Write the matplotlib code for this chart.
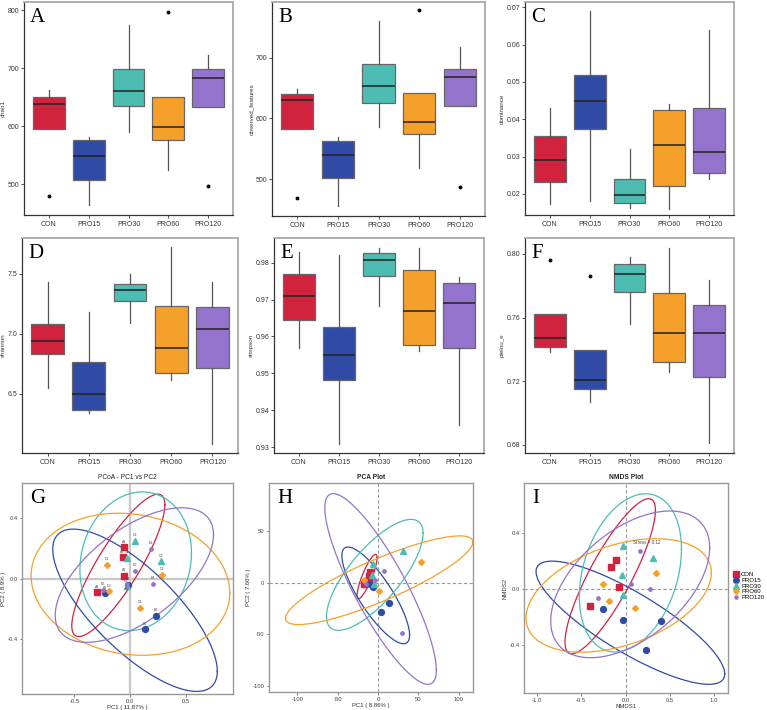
import numpy as np
import matplotlib
matplotlib.use("Agg")
import matplotlib.pyplot as plt
from matplotlib.lines import Line2D

plt.rcParams['font.family'] = ['Liberation Sans', 'DejaVu Sans']

groups = ["CON", "PRO15", "PRO30", "PRO60", "PRO120"]
colors = ["#D2233E", "#2F4BA6", "#4DBDB3", "#F5A02B", "#9473CC"]

# ---------------- box plot statistics ----------------
chao1_whislo = [596, 464, 590, 525, 633]
chao1_q1 = [596, 507, 635, 577, 633]
chao1_med = [639, 549, 661, 599, 683]
chao1_q3 = [650, 577, 698, 651, 698]
chao1_whishi = [662, 581, 775, 651, 723]
chao1_fliers = [[480], [], [], [797], [497]]

obs_whislo = [582, 455, 586, 518, 621]
obs_q1 = [582, 501, 626, 574, 621]
obs_med = [630, 539, 653, 594, 669]
obs_q3 = [641, 563, 689, 642, 682]
obs_whishi = [649, 570, 761, 642, 717]
obs_fliers = [[468], [], [], [779], [487]]

dom_whislo = [0.0172, 0.0181, 0.0163, 0.0161, 0.0241]
dom_q1 = [0.0231, 0.0375, 0.0176, 0.0222, 0.0256]
dom_med = [0.0291, 0.0450, 0.0197, 0.0330, 0.0311]
dom_q3 = [0.0356, 0.0518, 0.0239, 0.0425, 0.0430]
dom_whishi = [0.0430, 0.0689, 0.0320, 0.0440, 0.0638]
dom_fliers = [[], [], [], [], []]

sha_whislo = [6.55, 6.342, 7.094, 6.614, 6.086]
sha_q1 = [6.833, 6.367, 7.278, 6.675, 6.714]
sha_med = [6.944, 6.50, 7.367, 6.881, 7.039]
sha_q3 = [7.083, 6.769, 7.417, 7.233, 7.228]
sha_whishi = [7.433, 7.183, 7.50, 7.722, 7.433]
sha_fliers = [[], [], [], [], []]

sim_whislo = [0.957, 0.9309, 0.9682, 0.9561, 0.9359]
sim_q1 = [0.9645, 0.9483, 0.9763, 0.9576, 0.957]
sim_med = [0.971, 0.955, 0.9806, 0.967, 0.969]
sim_q3 = [0.977, 0.9625, 0.9826, 0.9781, 0.9745]
sim_whishi = [0.983, 0.982, 0.984, 0.984, 0.976]
sim_fliers = [[], [], [], [], []]

pie_whislo = [0.7381, 0.7069, 0.756, 0.726, 0.681]
pie_q1 = [0.7413, 0.715, 0.776, 0.732, 0.7228]
pie_med = [0.747, 0.7209, 0.7874, 0.750, 0.750]
pie_q3 = [0.7622, 0.7394, 0.7935, 0.7755, 0.768]
pie_whishi = [0.7622, 0.7394, 0.798, 0.8038, 0.7838]
pie_fliers = [[0.7962], [0.786], [], [], []]

# ---------------- ordination points ----------------
# PCoA
pcoa_x = [[-0.052, -0.067, -0.052, -0.294],
          [-0.017, -0.222, 0.230, 0.131],
          [0.041, -0.026, 0.274, -0.032],
          [-0.207, -0.190, 0.085, 0.283],
          [0.187, 0.047, 0.204, -0.242, -0.032]]
pcoa_y = [[0.209, 0.143, 0.020, -0.089],
          [-0.039, -0.096, -0.246, -0.333],
          [0.252, 0.139, 0.117, -0.050],
          [0.093, -0.083, -0.191, 0.026],
          [0.198, 0.052, -0.035, -0.072, -0.035]]
pcoa_labels = [["A1", "A3", "A2", "A4"],
               ["B4", "B1", "B3", "B2"],
               ["C4", "C1", "C3", "C2"],
               ["D1", "D3", "D4", "D2"],
               ["E1", "E2", "E4", "E3", "E5"]]
# PCA
pca_x = [[-9.9, -11.1, -11.5, -17.7],
         [-6.2, 13.2, 3.3, -10.3],
         [30.9, -6.2, -7.4, -4.9],
         [53.6, -17.3, 1.2],
         [7.4, -3.3, -14.4, 29.3]]
pca_y = [[10.3, 6.5, 2.3, -1.0],
         [-4.2, -19.4, -28.5, -1.0],
         [30.7, 17.8, 7.8, -1.0],
         [20.0, 2.9, -8.1],
         [11.3, 2.3, -1.0, -48.8]]
# NMDS
nmds_x = [[-0.113, -0.162, -0.075, -0.402],
          [-0.259, -0.026, 0.398, 0.237],
          [-0.026, 0.316, -0.038, -0.026],
          [-0.252, 0.342, -0.184, 0.105],
          [0.162, 0.060, 0.274, -0.308]]
nmds_y = [[0.207, 0.157, 0.012, -0.121],
          [-0.143, -0.221, -0.231, -0.436],
          [0.305, 0.219, 0.100, -0.043],
          [0.036, 0.114, -0.090, -0.136],
          [0.271, 0.036, -0.005, -0.064]]

# ellipse parameters: centre, half-extent x/y, correlation
pcoa_ecx = [-0.106, 0.044, 0.050, 0.003, 0.038]
pcoa_ecy = [0.088, -0.209, 0.115, -0.037, 0.024]
pcoa_ehx = [0.418, 0.739, 0.501, 0.892, 0.711]
pcoa_ehy = [0.471, 0.537, 0.459, 0.470, 0.445]
pcoa_erho = [0.85, -0.75, 0.12, -0.12, 0.60]

pca_ecx = [-13.6, -2.9, -4.1, 1.4, 3.1]
pca_ecy = [6.0, -12.3, 7.6, 2.4, -6.1]
pca_ehx = [12.4, 41.9, 59.8, 116.0, 69.0]
pca_ehy = [21.5, 46.9, 53.8, 43.0, 92.5]
pca_erho = [0.85, -0.82, 0.75, 0.86, -0.85]

nmds_ecx = [-0.173, 0.055, 0.055, -0.077, 0.053]
nmds_ecy = [0.089, -0.243, 0.113, -0.048, 0.031]
nmds_ehx = [0.511, 1.066, 0.577, 1.047, 0.898]
nmds_ehy = [0.554, 0.440, 0.565, 0.405, 0.524]
nmds_erho = [0.85, -0.83, 0.30, 0.40, 0.50]

markers = ["s", "o", "^", "D", "o"]
msizes = [4.2, 4.2, 4.5, 3.0, 2.4]

W, H = 767, 710
fig = plt.figure(figsize=(W / 100, H / 100), dpi=100)


def add_ax(l, r, t, b):
    return fig.add_axes([l / W, 1 - b / H, (r - l) / W, (b - t) / H])


def box_panel(ax, whislo, q1, med, q3, whishi, fliers, ylabel, ylim, yticks, ytl, letter):
    stats = []
    for i in range(len(groups)):
        stats.append(dict(whislo=whislo[i], q1=q1[i], med=med[i], q3=q3[i],
                          whishi=whishi[i], fliers=fliers[i], label=groups[i]))
    bp = ax.bxp(stats, positions=range(1, 6), widths=0.8, patch_artist=True,
                showcaps=False,
                boxprops=dict(edgecolor="#666666", linewidth=0.9),
                medianprops=dict(color="#222222", linewidth=1.1),
                whiskerprops=dict(color="#555555", linewidth=0.9),
                flierprops=dict(marker="o", markersize=1.8, markerfacecolor="black",
                                markeredgecolor="black"))
    for patch, c in zip(bp["boxes"], colors):
        patch.set_facecolor(c)
    ax.set_xlim(0.38, 5.62)
    ax.set_ylim(*ylim)
    ax.set_yticks(yticks)
    ax.set_yticklabels(ytl)
    ax.set_xticks(range(1, 6))
    ax.set_xticklabels(groups)
    ax.tick_params(labelsize=5, length=2, width=0.6, colors="#333333", pad=2)
    ax.tick_params(axis="y", pad=1.5)
    ax.set_ylabel(ylabel, fontsize=4.5, labelpad=1, color="#333333")
    for s in ["left", "bottom"]:
        ax.spines[s].set_color("#333333")
        ax.spines[s].set_linewidth(0.9)
    for s in ["top", "right"]:
        ax.spines[s].set_color("#aaaaaa")
        ax.spines[s].set_linewidth(1.3)
    ax.text(0.03, 0.97, letter, transform=ax.transAxes, fontsize=15,
            family="Liberation Serif", va="top", ha="left")


axA = add_ax(24, 233, 2, 215)
box_panel(axA, chao1_whislo, chao1_q1, chao1_med, chao1_q3, chao1_whishi, chao1_fliers,
          "chao1", (447, 814), [500, 600, 700, 800], ["500", "600", "700", "800"], "A")
axB = add_ax(272, 485, 2, 216)
box_panel(axB, obs_whislo, obs_q1, obs_med, obs_q3, obs_whishi, obs_fliers,
          "observed_features", (439, 792), [500, 600, 700], ["500", "600", "700"], "B")
axC = add_ax(525, 734, 2, 215)
box_panel(axC, dom_whislo, dom_q1, dom_med, dom_q3, dom_whishi, dom_fliers,
          "dominance", (0.01436, 0.0714), [0.02, 0.03, 0.04, 0.05, 0.06, 0.07],
          ["0.02", "0.03", "0.04", "0.05", "0.06", "0.07"], "C")
axD = add_ax(22, 238, 238, 453)
box_panel(axD, sha_whislo, sha_q1, sha_med, sha_q3, sha_whishi, sha_fliers,
          "shannon", (6.008, 7.80), [6.5, 7.0, 7.5], ["6.5", "7.0", "7.5"], "D")
axE = add_ax(274, 484, 238, 453)
box_panel(axE, sim_whislo, sim_q1, sim_med, sim_q3, sim_whishi, sim_fliers,
          "simpson", (0.9284, 0.9867), [0.93, 0.94, 0.95, 0.96, 0.97, 0.98],
          ["0.93", "0.94", "0.95", "0.96", "0.97", "0.98"], "E")
axF = add_ax(525, 734, 238, 453)
box_panel(axF, pie_whislo, pie_q1, pie_med, pie_q3, pie_whishi, pie_fliers,
          "pielou_e", (0.6748, 0.810), [0.68, 0.72, 0.76, 0.80],
          ["0.68", "0.72", "0.76", "0.80"], "F")


def ellipse(ax, cx, cy, hx, hy, rho, color):
    t = np.linspace(0, 2 * np.pi, 300)
    phi = np.arccos(rho)
    ax.plot(cx + hx * np.cos(t), cy + hy * np.cos(t - phi), color=color, lw=0.9)


def ord_panel(ax, xs, ys, ecx, ecy, ehx, ehy, erho, title, xlabel, ylabel,
              xlim, ylim, xt, xtl, yt, ytl, letter, solid_zero, labels=None):
    ax.set_xlim(*xlim)
    ax.set_ylim(*ylim)
    if solid_zero:
        ax.axhline(0, color="#c8c8c8", lw=1.6, zorder=0)
        ax.axvline(0, color="#c8c8c8", lw=1.6, zorder=0)
    else:
        ax.axhline(0, color="#999999", lw=0.8, ls=(0, (3, 2)), zorder=0)
        ax.axvline(0, color="#999999", lw=0.8, ls=(0, (3, 2)), zorder=0)
    for i in range(len(groups)):
        ellipse(ax, ecx[i], ecy[i], ehx[i], ehy[i], erho[i], colors[i])
    for i in range(len(groups)):
        ax.plot(xs[i], ys[i], ls="none", marker=markers[i], ms=msizes[i],
                color=colors[i], mec=colors[i], zorder=3)
        if labels is not None:
            for j, (x, y, lab) in enumerate(zip(xs[i], ys[i], labels[i])):
                below = (i == 4 and j == 4)
                ax.annotate(lab, (x, y), xytext=(0, -2.5 if below else 2.5),
                            textcoords="offset points", fontsize=2.6, ha="center",
                            va="top" if below else "bottom", color="#555555")
    ax.set_xticks(xt)
    ax.set_xticklabels(xtl)
    ax.set_yticks(yt)
    ax.set_yticklabels(ytl)
    ax.tick_params(labelsize=4.2, length=1.8, width=0.5, colors="#444444", pad=1.5)
    ax.set_title(title, fontsize=4.8, pad=3, color="#222222",
                 fontweight="bold" if not solid_zero else "normal")
    ax.set_xlabel(xlabel, fontsize=4.3, labelpad=0.8, color="#333333")
    ax.set_ylabel(ylabel, fontsize=4.3, labelpad=1.2, color="#333333")
    for s in ax.spines.values():
        s.set_color("#999999")
        s.set_linewidth(1.0)
    ax.text(0.04, 0.97, letter, transform=ax.transAxes, fontsize=15,
            family="Liberation Serif", va="top", ha="left")


axG = add_ax(22, 233, 483, 694)
ord_panel(axG, pcoa_x, pcoa_y, pcoa_ecx, pcoa_ecy, pcoa_ehx, pcoa_ehy, pcoa_erho,
          "PCoA - PC1 vs PC2", "PC1 ( 11.87% )", "PC2 ( 8.9% )",
          (-0.971, 0.924), (-0.763, 0.633), [-0.5, 0, 0.5], ["-0.5", "0.0", "0.5"],
          [-0.4, 0, 0.4], ["-0.4", "0.0", "0.4"], "G", True, labels=pcoa_labels)

axH = add_ax(269, 473, 483, 692)
ord_panel(axH, pca_x, pca_y, pca_ecx, pca_ecy, pca_ehx, pca_ehy, pca_erho,
          "PCA Plot", "PC1 ( 8.86% )", "PC2 ( 7.66% )",
          (-135, 117.5), (-106, 96.7), [-100, -50, 0, 50, 100],
          ["-100", "-50", "0", "50", "100"],
          [-100, -50, 0, 50], ["-100", "-50", "0", "50"], "H", False)

axI = add_ax(524, 728, 483, 693)
ord_panel(axI, nmds_x, nmds_y, nmds_ecx, nmds_ecy, nmds_ehx, nmds_ehy, nmds_erho,
          "NMDS Plot", "NMDS1", "NMDS2",
          (-1.147, 1.158), (-0.745, 0.755), [-1, -0.5, 0, 0.5, 1],
          ["-1.0", "-0.5", "0.0", "0.5", "1.0"],
          [-0.4, 0, 0.4], ["-0.4", "0.0", "0.4"], "I", False)
axI.text(0.237, 0.312, "Stress = 0.12", fontsize=3.3, ha="center", va="bottom",
         color="#444444")

handles = [Line2D([], [], ls="none", marker=markers[i], ms=msizes[i] * 0.95,
                  color=colors[i]) for i in range(len(groups))]
fig.legend(handles, groups, loc="center left", bbox_to_anchor=(734 / W, 1 - 586 / H),
           fontsize=4.3, frameon=False, handlelength=0.8, handletextpad=0.4,
           labelspacing=0.12, borderaxespad=0, borderpad=0)

fig.savefig("out.png", dpi=100)
